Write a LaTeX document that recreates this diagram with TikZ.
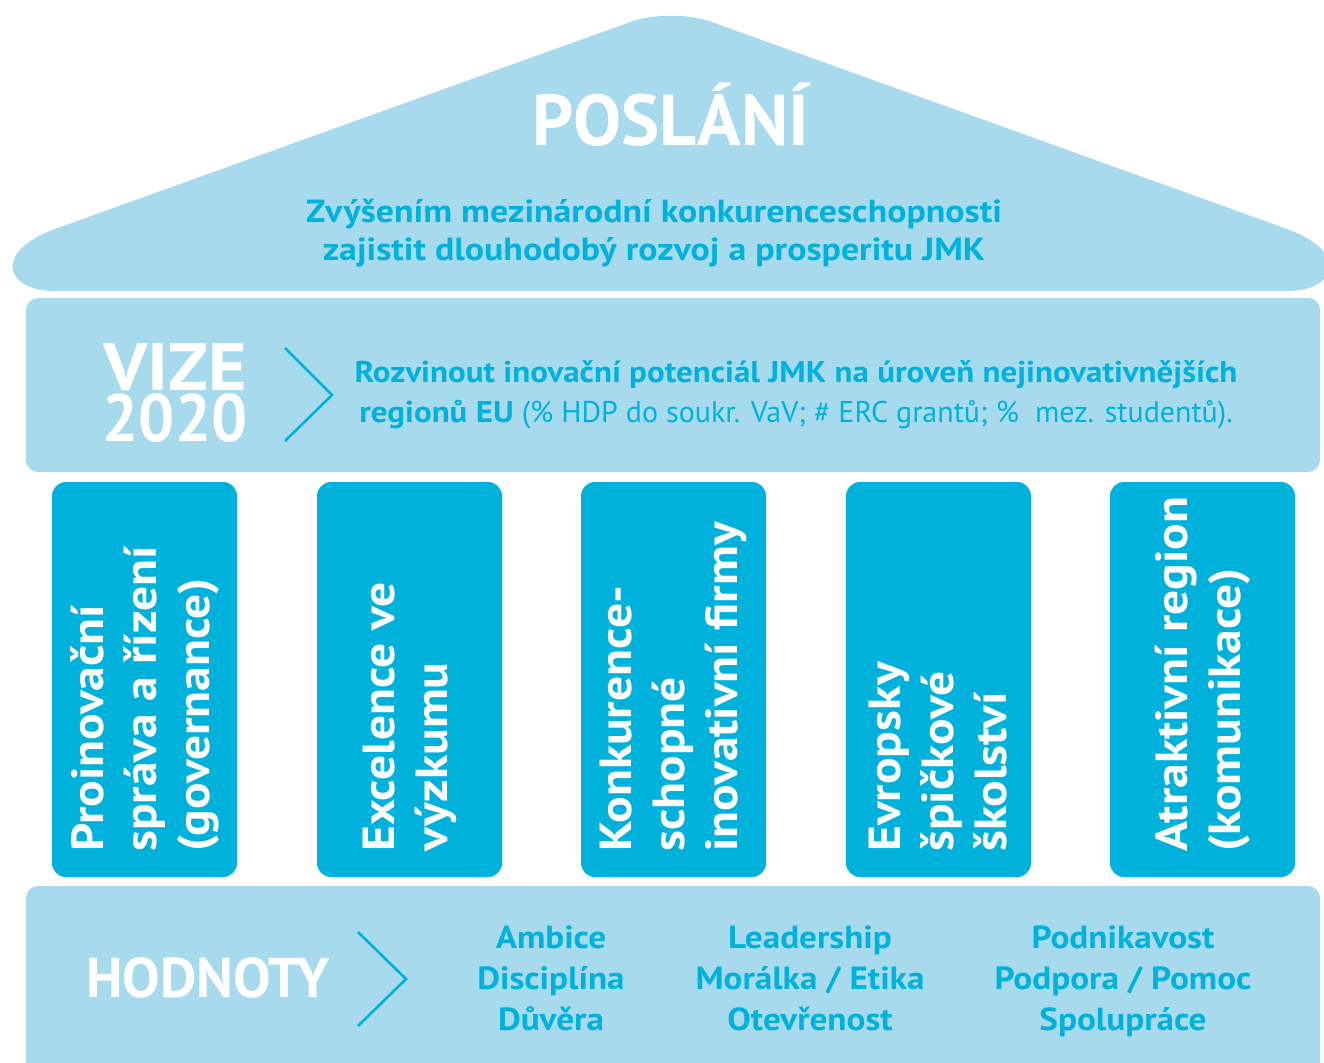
\documentclass[tikz,border=0pt]{standalone}
\usepackage{fontspec}
\setmainfont{PT Sans}
\newfontfamily\wide[FakeStretch=1.1]{PT Sans}
\newfontfamily\wider[FakeStretch=1.12]{PT Sans}
\newfontfamily\narrowf[FakeStretch=0.95]{PT Sans}
\definecolor{lightb}{HTML}{A8DAEE}
\definecolor{darkb}{HTML}{00B2DB}
\begin{document}
\begin{tikzpicture}[x=1pt,y=-1pt,
  band/.style={fill=lightb, rounded corners=12pt},
  pillar/.style={fill=darkb, rounded corners=14pt},
  chev/.style={draw=darkb, line width=2.6pt},
  ptext/.style={rotate=90, anchor=west, text=white, align=left, inner sep=0pt,
    font=\wide\bfseries\fontsize{45}{53}\selectfont},
  bluetext/.style={text=darkb, align=center, inner sep=0pt},
  valtext/.style={text=darkb, align=center, inner sep=0pt,
    font=\wide\bfseries\fontsize{32}{41}\selectfont},
  whitetitle/.style={text=white, align=center, inner sep=0pt}]
\useasboundingbox (0,0) rectangle (1324,1062);
\clip (0,0) rectangle (1324,1062);
% roof
\fill[lightb] (55,291) -- (1287,291) .. controls (1337,291) and (1350,252) .. (1287,229)
  -- (709,21) .. controls (687,14) and (655,14) .. (633,21)
  -- (55,229) .. controls (-8,252) and (5,291) .. (55,291) -- cycle;
% bands
\fill[band] (26,298) rectangle (1320,472);
\fill[band] (26,886) rectangle (1320,1100);
% pillars
\foreach \c in {144.5,409.5,673.5,938.5,1202.5}
  \fill[pillar] (\c-92.5,482) rectangle (\c+92.5,877);
% roof text
\node[whitetitle, font=\bfseries\fontsize{72}{80}\selectfont, anchor=base] (poslani) at (671,145) {POSLÁNÍ};
\node[bluetext, font=\wider\bfseries\fontsize{32}{38}\selectfont] (mise) at (654,233)
  {Zvýšením mezinárodní konkurenceschopnosti\\zajistit dlouhodobý rozvoj a prosperitu JMK};
% vize
\node[whitetitle, font=\wide\bfseries\fontsize{67}{70}\selectfont, anchor=base,
  text height=46pt, text depth=0pt] (vize) at (175,390) {VIZE};
\node[whitetitle, font=\narrowf\bfseries\fontsize{67}{70}\selectfont, anchor=base,
  text height=46pt, text depth=0pt] (year) at (175,441) {2020};
\coordinate (v1) at (285,348);
\coordinate (v2) at (332,395);
\coordinate (v3) at (285,441);
\draw[chev] (v1) -- (v2) -- (v3);
\node[bluetext, font=\fontsize{30}{40}\selectfont] (vizetext) at (796,395)
  {{\wide\bfseries Rozvinout inovační potenciál JMK na úroveň nejinovativnějších}\\
   {\wide\bfseries regionů EU} (\% HDP do soukr. VaV; \# ERC grantů; \%\ \ mez. studentů).};
% pillar texts
\node[ptext] (t1) at (144.5,852) {Proinovační\\správa a řízení\\(governance)};
\node[ptext] (t2) at (409.5,852) {Excelence ve\\výzkumu};
\node[ptext] (t3) at (673.5,852) {Konkurence-\\schopné\\inovativní firmy};
\node[ptext] (t4) at (938.5,852) {Evropsky\\špičkové\\školství};
\node[ptext] (t5) at (1202.5,852) {Atraktivní region\\(komunikace)};
% hodnoty
\node[whitetitle, font=\bfseries\fontsize{56}{60}\selectfont] (hodnoty) at (208,978) {HODNOTY};
\coordinate (h1) at (358,932);
\coordinate (h2) at (406,979);
\coordinate (h3) at (358,1026);
\draw[chev] (h1) -- (h2) -- (h3);
\node[valtext] (val1) at (551,981) {Ambice\\Disciplína\\Důvěra\vphantom{p}};
\node[valtext] (val2) at (810,981) {Leadership\\Morálka / Etika\\Otevřenost\vphantom{p}};
\node[valtext] (val3) at (1123,981) {Podnikavost\\Podpora / Pomoc\\Spolupráce};
\end{tikzpicture}
\end{document}
